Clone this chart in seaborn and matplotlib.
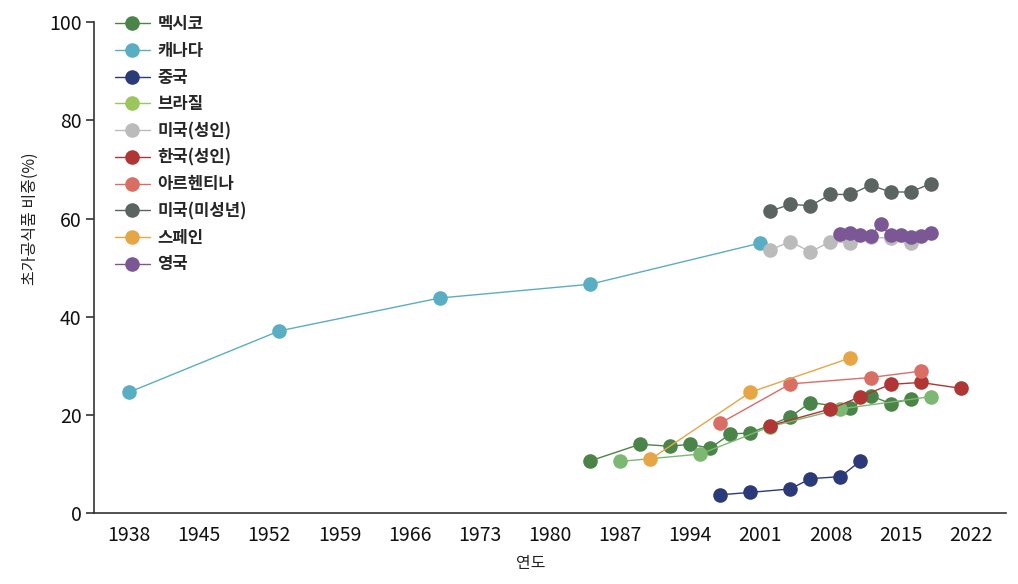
import pandas as pd
import matplotlib.pyplot as plt
import seaborn as sns
from matplotlib.ticker import FixedLocator, NullFormatter

# 국가 / 색상
countries = ["멕시코", "캐나다", "중국", "브라질", "미국(성인)", "한국(성인)",
             "아르헨티나", "미국(미성년)", "스페인", "영국"]
colors = ["#4b8449", "#5aaec3", "#2b3a78", "#7db872", "#bbbbbb", "#b03535",
          "#d96e64", "#5b6461", "#e6a646", "#7b5895"]

# 값 (연도, 초가공식품 비중 %)
mexico_years = [1984, 1989, 1992, 1994, 1996, 1998, 2000, 2004, 2006, 2010, 2012, 2014, 2016]
mexico_vals = [10.6, 14.0, 13.6, 14.0, 13.2, 16.1, 16.3, 19.6, 22.5, 21.4, 23.9, 22.3, 23.2]

canada_years = [1938, 1953, 1969, 1984, 2001]
canada_vals = [24.6, 37.1, 43.8, 46.6, 55.0]

china_years = [1997, 2000, 2004, 2006, 2009, 2011]
china_vals = [3.7, 4.2, 4.9, 7.0, 7.4, 10.6]

brazil_years = [1987, 1995, 2002, 2009, 2018]
brazil_vals = [10.5, 12.0, 17.6, 21.2, 23.7]

us_adult_years = [2002, 2004, 2006, 2008, 2010, 2012, 2014, 2016]
us_adult_vals = [53.6, 55.3, 53.2, 55.3, 55.1, 56.2, 56.0, 55.1]

korea_years = [2002, 2008, 2011, 2014, 2017, 2021]
korea_vals = [17.8, 21.2, 23.7, 26.2, 26.6, 25.4]

argentina_years = [1997, 2004, 2012, 2017]
argentina_vals = [18.3, 26.3, 27.6, 28.9]

us_youth_years = [2002, 2004, 2006, 2008, 2010, 2012, 2014, 2016, 2018]
us_youth_vals = [61.5, 62.9, 62.6, 64.9, 64.9, 66.8, 65.4, 65.4, 67.1]

spain_years = [1990, 2000, 2010]
spain_vals = [10.9, 24.6, 31.6]

uk_years = [2009, 2010, 2011, 2012, 2013, 2014, 2015, 2016, 2017, 2018]
uk_vals = [56.8, 57.1, 56.6, 56.4, 58.8, 56.6, 56.6, 56.3, 56.4, 57.1]

year_labels = list(range(1938, 2023, 7))

series = [
    (mexico_years, mexico_vals), (canada_years, canada_vals),
    (china_years, china_vals), (brazil_years, brazil_vals),
    (us_adult_years, us_adult_vals), (korea_years, korea_vals),
    (argentina_years, argentina_vals), (us_youth_years, us_youth_vals),
    (spain_years, spain_vals), (uk_years, uk_vals),
]
frames = []
for name, (yrs, vals) in zip(countries, series):
    frames.append(pd.DataFrame({"연도": yrs, "비중": vals, "국가": name}))
df = pd.concat(frames, ignore_index=True)

sns.set_style("white")
plt.rcParams["font.family"] = ["Noto Sans CJK KR", "DejaVu Sans"]

fig, ax = plt.subplots(figsize=(10.18, 5.84), dpi=100)
fig.subplots_adjust(left=0.0923, right=0.988, top=0.962, bottom=0.1216)

sns.lineplot(data=df, x="연도", y="비중", hue="국가", hue_order=countries,
             palette=dict(zip(countries, colors)), marker="o", markersize=10.5,
             markeredgewidth=0, linewidth=1.0, estimator=None, ax=ax)

ax.set_xlim(year_labels[0] - 3.5, year_labels[-1] + 3.5)
ax.set_ylim(0, 100)

# 구간 경계에 눈금, 가운데에 라벨
edges = [y - 3.5 for y in year_labels] + [year_labels[-1] + 3.5]
ax.xaxis.set_major_locator(FixedLocator(edges))
ax.xaxis.set_major_formatter(NullFormatter())
ax.set_xticks(year_labels, [str(y) for y in year_labels], minor=True)
ax.tick_params(axis="x", which="major", length=7, width=1.2, color="#333333", direction="out")
ax.tick_params(axis="x", which="minor", length=0, pad=9, labelsize=14, labelcolor="#111111")
ax.set_yticks([0, 20, 40, 60, 80, 100])
ax.tick_params(axis="y", length=6, width=1.2, color="#333333", labelsize=14,
               labelcolor="#111111", pad=3, left=True)

for s in ["top", "right"]:
    ax.spines[s].set_visible(False)
for s in ["left", "bottom"]:
    ax.spines[s].set_color("#333333")
    ax.spines[s].set_linewidth(1.2)

ax.set_xlabel("연도", fontsize=11.5, color="#222222")
ax.xaxis.set_label_coords(0.479, -0.085)
ax.set_ylabel("초가공식품 비중(%)", fontsize=11.5, color="#222222")
ax.yaxis.set_label_coords(-0.06, 0.6)

handles, labels = ax.get_legend_handles_labels()
leg = ax.legend(handles, labels, loc="upper left", bbox_to_anchor=(0.023, 1.014),
                frameon=False, prop={"weight": "bold", "size": 12},
                handlelength=2.1, handletextpad=0.45, labelspacing=0.52,
                borderpad=0, borderaxespad=0)
for h in leg.legend_handles:
    h.set_markersize(10.5)
    h.set_alpha(None)
leg.legend_handles[3].set_color("#9bc65c")
leg.legend_handles[3].set_markerfacecolor("#9bc65c")

fig.savefig("out.png", dpi=100)
plt.close(fig)
